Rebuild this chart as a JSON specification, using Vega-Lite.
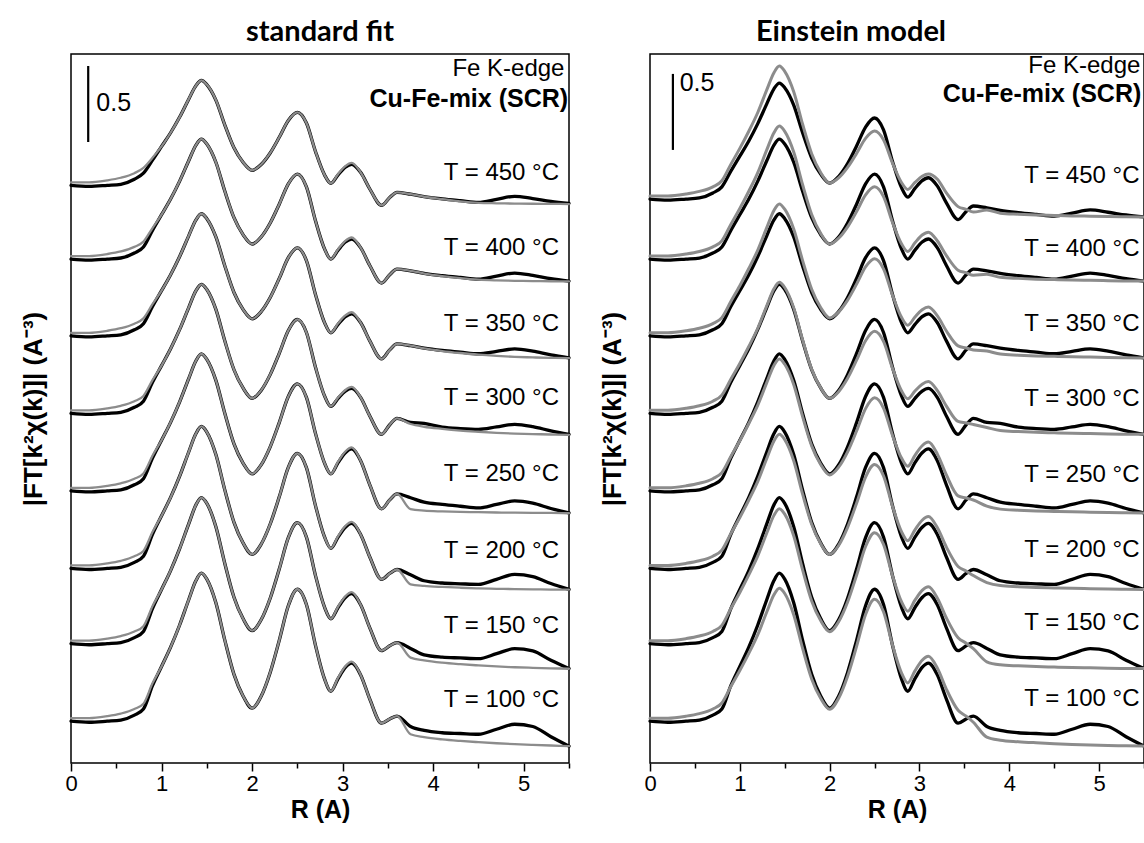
{
"$schema":"https://vega.github.io/schema/vega-lite/v6.json",
"background":"white",
"padding":{"left":19,"top":17,"right":0,"bottom":0},
"spacing":26,
"datasets":{
"curves":[
{"panel":"std","T":450,"R":0,"obs":3.8,"fit":3.82},{"panel":"std","T":450,"R":0.2,"obs":3.793,"fit":3.82},{"panel":"std","T":450,"R":0.4,"obs":3.8,"fit":3.833},{"panel":"std","T":450,"R":0.55,"obs":3.807,"fit":3.85},{"panel":"std","T":450,"R":0.7,"obs":3.84,"fit":3.88},{"panel":"std","T":450,"R":0.8,"obs":3.88,"fit":3.915},{"panel":"std","T":450,"R":0.9,"obs":3.966,"fit":3.981},{"panel":"std","T":450,"R":1,"obs":4.056,"fit":4.056},{"panel":"std","T":450,"R":1.1,"obs":4.146,"fit":4.146},{"panel":"std","T":450,"R":1.2,"obs":4.249,"fit":4.249},{"panel":"std","T":450,"R":1.3,"obs":4.367,"fit":4.367},{"panel":"std","T":450,"R":1.38,"obs":4.456,"fit":4.456},{"panel":"std","T":450,"R":1.44,"obs":4.491,"fit":4.491},{"panel":"std","T":450,"R":1.5,"obs":4.463,"fit":4.463},{"panel":"std","T":450,"R":1.6,"obs":4.361,"fit":4.361},{"panel":"std","T":450,"R":1.7,"obs":4.195,"fit":4.195},{"panel":"std","T":450,"R":1.8,"obs":4.047,"fit":4.047},{"panel":"std","T":450,"R":1.9,"obs":3.952,"fit":3.952},{"panel":"std","T":450,"R":2,"obs":3.899,"fit":3.899},{"panel":"std","T":450,"R":2.1,"obs":3.937,"fit":3.937},{"panel":"std","T":450,"R":2.2,"obs":4.013,"fit":4.013},{"panel":"std","T":450,"R":2.3,"obs":4.116,"fit":4.116},{"panel":"std","T":450,"R":2.4,"obs":4.227,"fit":4.227},{"panel":"std","T":450,"R":2.5,"obs":4.28,"fit":4.28},{"panel":"std","T":450,"R":2.6,"obs":4.21,"fit":4.21},{"panel":"std","T":450,"R":2.7,"obs":4.023,"fit":4.023},{"panel":"std","T":450,"R":2.8,"obs":3.869,"fit":3.869},{"panel":"std","T":450,"R":2.87,"obs":3.813,"fit":3.813},{"panel":"std","T":450,"R":2.95,"obs":3.869,"fit":3.875},{"panel":"std","T":450,"R":3.03,"obs":3.919,"fit":3.927},{"panel":"std","T":450,"R":3.1,"obs":3.938,"fit":3.948},{"panel":"std","T":450,"R":3.2,"obs":3.884,"fit":3.884},{"panel":"std","T":450,"R":3.3,"obs":3.776,"fit":3.776},{"panel":"std","T":450,"R":3.43,"obs":3.668,"fit":3.668},{"panel":"std","T":450,"R":3.52,"obs":3.72,"fit":3.72},{"panel":"std","T":450,"R":3.6,"obs":3.754,"fit":3.754},{"panel":"std","T":450,"R":3.75,"obs":3.742,"fit":3.742},{"panel":"std","T":450,"R":3.9,"obs":3.726,"fit":3.725},{"panel":"std","T":450,"R":4.1,"obs":3.711,"fit":3.71},{"panel":"std","T":450,"R":4.3,"obs":3.699,"fit":3.695},{"panel":"std","T":450,"R":4.5,"obs":3.688,"fit":3.685},{"panel":"std","T":450,"R":4.7,"obs":3.708,"fit":3.682},{"panel":"std","T":450,"R":4.9,"obs":3.728,"fit":3.68},{"panel":"std","T":450,"R":5.1,"obs":3.713,"fit":3.679},{"panel":"std","T":450,"R":5.3,"obs":3.695,"fit":3.678},{"panel":"std","T":450,"R":5.5,"obs":3.682,"fit":3.677},
{"panel":"std","T":400,"R":0,"obs":3.315,"fit":3.335},{"panel":"std","T":400,"R":0.2,"obs":3.308,"fit":3.335},{"panel":"std","T":400,"R":0.4,"obs":3.315,"fit":3.348},{"panel":"std","T":400,"R":0.55,"obs":3.322,"fit":3.365},{"panel":"std","T":400,"R":0.7,"obs":3.355,"fit":3.395},{"panel":"std","T":400,"R":0.8,"obs":3.395,"fit":3.43},{"panel":"std","T":400,"R":0.9,"obs":3.504,"fit":3.519},{"panel":"std","T":400,"R":1,"obs":3.607,"fit":3.607},{"panel":"std","T":400,"R":1.1,"obs":3.71,"fit":3.71},{"panel":"std","T":400,"R":1.2,"obs":3.828,"fit":3.828},{"panel":"std","T":400,"R":1.3,"obs":3.962,"fit":3.962},{"panel":"std","T":400,"R":1.38,"obs":4.065,"fit":4.065},{"panel":"std","T":400,"R":1.44,"obs":4.104,"fit":4.104},{"panel":"std","T":400,"R":1.5,"obs":4.072,"fit":4.072},{"panel":"std","T":400,"R":1.6,"obs":3.952,"fit":3.952},{"panel":"std","T":400,"R":1.7,"obs":3.759,"fit":3.759},{"panel":"std","T":400,"R":1.8,"obs":3.587,"fit":3.587},{"panel":"std","T":400,"R":1.9,"obs":3.476,"fit":3.476},{"panel":"std","T":400,"R":2,"obs":3.414,"fit":3.414},{"panel":"std","T":400,"R":2.1,"obs":3.46,"fit":3.46},{"panel":"std","T":400,"R":2.2,"obs":3.552,"fit":3.552},{"panel":"std","T":400,"R":2.3,"obs":3.676,"fit":3.676},{"panel":"std","T":400,"R":2.4,"obs":3.81,"fit":3.81},{"panel":"std","T":400,"R":2.5,"obs":3.874,"fit":3.874},{"panel":"std","T":400,"R":2.6,"obs":3.79,"fit":3.79},{"panel":"std","T":400,"R":2.7,"obs":3.567,"fit":3.567},{"panel":"std","T":400,"R":2.8,"obs":3.382,"fit":3.382},{"panel":"std","T":400,"R":2.87,"obs":3.315,"fit":3.315},{"panel":"std","T":400,"R":2.95,"obs":3.374,"fit":3.38},{"panel":"std","T":400,"R":3.03,"obs":3.427,"fit":3.435},{"panel":"std","T":400,"R":3.1,"obs":3.447,"fit":3.457},{"panel":"std","T":400,"R":3.2,"obs":3.389,"fit":3.389},{"panel":"std","T":400,"R":3.3,"obs":3.273,"fit":3.273},{"panel":"std","T":400,"R":3.43,"obs":3.157,"fit":3.157},{"panel":"std","T":400,"R":3.52,"obs":3.212,"fit":3.212},{"panel":"std","T":400,"R":3.6,"obs":3.249,"fit":3.249},{"panel":"std","T":400,"R":3.75,"obs":3.238,"fit":3.238},{"panel":"std","T":400,"R":3.9,"obs":3.221,"fit":3.22},{"panel":"std","T":400,"R":4.1,"obs":3.206,"fit":3.203},{"panel":"std","T":400,"R":4.3,"obs":3.194,"fit":3.19},{"panel":"std","T":400,"R":4.5,"obs":3.183,"fit":3.18},{"panel":"std","T":400,"R":4.7,"obs":3.203,"fit":3.175},{"panel":"std","T":400,"R":4.9,"obs":3.223,"fit":3.172},{"panel":"std","T":400,"R":5.1,"obs":3.208,"fit":3.17},{"panel":"std","T":400,"R":5.3,"obs":3.186,"fit":3.169},{"panel":"std","T":400,"R":5.5,"obs":3.17,"fit":3.168},
{"panel":"std","T":350,"R":0,"obs":2.81,"fit":2.83},{"panel":"std","T":350,"R":0.2,"obs":2.803,"fit":2.83},{"panel":"std","T":350,"R":0.4,"obs":2.81,"fit":2.843},{"panel":"std","T":350,"R":0.55,"obs":2.817,"fit":2.86},{"panel":"std","T":350,"R":0.7,"obs":2.85,"fit":2.89},{"panel":"std","T":350,"R":0.8,"obs":2.89,"fit":2.925},{"panel":"std","T":350,"R":0.9,"obs":3.003,"fit":3.018},{"panel":"std","T":350,"R":1,"obs":3.107,"fit":3.107},{"panel":"std","T":350,"R":1.1,"obs":3.212,"fit":3.212},{"panel":"std","T":350,"R":1.2,"obs":3.332,"fit":3.332},{"panel":"std","T":350,"R":1.3,"obs":3.468,"fit":3.468},{"panel":"std","T":350,"R":1.38,"obs":3.573,"fit":3.573},{"panel":"std","T":350,"R":1.44,"obs":3.613,"fit":3.613},{"panel":"std","T":350,"R":1.5,"obs":3.581,"fit":3.581},{"panel":"std","T":350,"R":1.6,"obs":3.461,"fit":3.461},{"panel":"std","T":350,"R":1.7,"obs":3.268,"fit":3.268},{"panel":"std","T":350,"R":1.8,"obs":3.095,"fit":3.095},{"panel":"std","T":350,"R":1.9,"obs":2.984,"fit":2.984},{"panel":"std","T":350,"R":2,"obs":2.922,"fit":2.922},{"panel":"std","T":350,"R":2.1,"obs":2.969,"fit":2.969},{"panel":"std","T":350,"R":2.2,"obs":3.062,"fit":3.062},{"panel":"std","T":350,"R":2.3,"obs":3.188,"fit":3.188},{"panel":"std","T":350,"R":2.4,"obs":3.324,"fit":3.324},{"panel":"std","T":350,"R":2.5,"obs":3.389,"fit":3.389},{"panel":"std","T":350,"R":2.6,"obs":3.305,"fit":3.305},{"panel":"std","T":350,"R":2.7,"obs":3.082,"fit":3.082},{"panel":"std","T":350,"R":2.8,"obs":2.897,"fit":2.897},{"panel":"std","T":350,"R":2.87,"obs":2.83,"fit":2.83},{"panel":"std","T":350,"R":2.95,"obs":2.886,"fit":2.892},{"panel":"std","T":350,"R":3.03,"obs":2.936,"fit":2.944},{"panel":"std","T":350,"R":3.1,"obs":2.955,"fit":2.965},{"panel":"std","T":350,"R":3.2,"obs":2.896,"fit":2.896},{"panel":"std","T":350,"R":3.3,"obs":2.777,"fit":2.777},{"panel":"std","T":350,"R":3.43,"obs":2.659,"fit":2.659},{"panel":"std","T":350,"R":3.52,"obs":2.718,"fit":2.718},{"panel":"std","T":350,"R":3.6,"obs":2.757,"fit":2.757},{"panel":"std","T":350,"R":3.75,"obs":2.745,"fit":2.745},{"panel":"std","T":350,"R":3.9,"obs":2.729,"fit":2.727},{"panel":"std","T":350,"R":4.1,"obs":2.714,"fit":2.71},{"panel":"std","T":350,"R":4.3,"obs":2.703,"fit":2.697},{"panel":"std","T":350,"R":4.5,"obs":2.692,"fit":2.686},{"panel":"std","T":350,"R":4.7,"obs":2.708,"fit":2.678},{"panel":"std","T":350,"R":4.9,"obs":2.724,"fit":2.672},{"panel":"std","T":350,"R":5.1,"obs":2.709,"fit":2.668},{"panel":"std","T":350,"R":5.3,"obs":2.684,"fit":2.665},{"panel":"std","T":350,"R":5.5,"obs":2.665,"fit":2.663},
{"panel":"std","T":300,"R":0,"obs":2.3,"fit":2.32},{"panel":"std","T":300,"R":0.2,"obs":2.293,"fit":2.32},{"panel":"std","T":300,"R":0.4,"obs":2.3,"fit":2.333},{"panel":"std","T":300,"R":0.55,"obs":2.307,"fit":2.35},{"panel":"std","T":300,"R":0.7,"obs":2.34,"fit":2.38},{"panel":"std","T":300,"R":0.8,"obs":2.38,"fit":2.415},{"panel":"std","T":300,"R":0.9,"obs":2.504,"fit":2.519},{"panel":"std","T":300,"R":1,"obs":2.614,"fit":2.614},{"panel":"std","T":300,"R":1.1,"obs":2.725,"fit":2.725},{"panel":"std","T":300,"R":1.2,"obs":2.852,"fit":2.852},{"panel":"std","T":300,"R":1.3,"obs":2.996,"fit":2.996},{"panel":"std","T":300,"R":1.38,"obs":3.107,"fit":3.107},{"panel":"std","T":300,"R":1.44,"obs":3.149,"fit":3.149},{"panel":"std","T":300,"R":1.5,"obs":3.115,"fit":3.115},{"panel":"std","T":300,"R":1.6,"obs":2.984,"fit":2.984},{"panel":"std","T":300,"R":1.7,"obs":2.774,"fit":2.774},{"panel":"std","T":300,"R":1.8,"obs":2.587,"fit":2.587},{"panel":"std","T":300,"R":1.9,"obs":2.467,"fit":2.467},{"panel":"std","T":300,"R":2,"obs":2.399,"fit":2.399},{"panel":"std","T":300,"R":2.1,"obs":2.451,"fit":2.451},{"panel":"std","T":300,"R":2.2,"obs":2.555,"fit":2.555},{"panel":"std","T":300,"R":2.3,"obs":2.695,"fit":2.695},{"panel":"std","T":300,"R":2.4,"obs":2.845,"fit":2.845},{"panel":"std","T":300,"R":2.5,"obs":2.918,"fit":2.918},{"panel":"std","T":300,"R":2.6,"obs":2.832,"fit":2.832},{"panel":"std","T":300,"R":2.7,"obs":2.603,"fit":2.603},{"panel":"std","T":300,"R":2.8,"obs":2.415,"fit":2.415},{"panel":"std","T":300,"R":2.87,"obs":2.346,"fit":2.346},{"panel":"std","T":300,"R":2.95,"obs":2.399,"fit":2.405},{"panel":"std","T":300,"R":3.03,"obs":2.446,"fit":2.454},{"panel":"std","T":300,"R":3.1,"obs":2.464,"fit":2.474},{"panel":"std","T":300,"R":3.2,"obs":2.404,"fit":2.404},{"panel":"std","T":300,"R":3.3,"obs":2.283,"fit":2.283},{"panel":"std","T":300,"R":3.43,"obs":2.162,"fit":2.162},{"panel":"std","T":300,"R":3.52,"obs":2.225,"fit":2.225},{"panel":"std","T":300,"R":3.6,"obs":2.267,"fit":2.267},{"panel":"std","T":300,"R":3.75,"obs":2.24,"fit":2.23},{"panel":"std","T":300,"R":3.9,"obs":2.234,"fit":2.212},{"panel":"std","T":300,"R":4.1,"obs":2.21,"fit":2.198},{"panel":"std","T":300,"R":4.3,"obs":2.2,"fit":2.187},{"panel":"std","T":300,"R":4.5,"obs":2.195,"fit":2.179},{"panel":"std","T":300,"R":4.7,"obs":2.211,"fit":2.172},{"panel":"std","T":300,"R":4.9,"obs":2.228,"fit":2.167},{"panel":"std","T":300,"R":5.1,"obs":2.213,"fit":2.164},{"panel":"std","T":300,"R":5.3,"obs":2.185,"fit":2.161},{"panel":"std","T":300,"R":5.5,"obs":2.162,"fit":2.159},
{"panel":"std","T":250,"R":0,"obs":1.79,"fit":1.81},{"panel":"std","T":250,"R":0.2,"obs":1.783,"fit":1.81},{"panel":"std","T":250,"R":0.4,"obs":1.79,"fit":1.823},{"panel":"std","T":250,"R":0.55,"obs":1.797,"fit":1.84},{"panel":"std","T":250,"R":0.7,"obs":1.83,"fit":1.87},{"panel":"std","T":250,"R":0.8,"obs":1.87,"fit":1.905},{"panel":"std","T":250,"R":0.9,"obs":2.006,"fit":2.021},{"panel":"std","T":250,"R":1,"obs":2.123,"fit":2.123},{"panel":"std","T":250,"R":1.1,"obs":2.241,"fit":2.241},{"panel":"std","T":250,"R":1.2,"obs":2.376,"fit":2.376},{"panel":"std","T":250,"R":1.3,"obs":2.529,"fit":2.529},{"panel":"std","T":250,"R":1.38,"obs":2.646,"fit":2.646},{"panel":"std","T":250,"R":1.44,"obs":2.691,"fit":2.691},{"panel":"std","T":250,"R":1.5,"obs":2.655,"fit":2.655},{"panel":"std","T":250,"R":1.6,"obs":2.517,"fit":2.517},{"panel":"std","T":250,"R":1.7,"obs":2.297,"fit":2.297},{"panel":"std","T":250,"R":1.8,"obs":2.099,"fit":2.099},{"panel":"std","T":250,"R":1.9,"obs":1.973,"fit":1.973},{"panel":"std","T":250,"R":2,"obs":1.902,"fit":1.902},{"panel":"std","T":250,"R":2.1,"obs":1.961,"fit":1.961},{"panel":"std","T":250,"R":2.2,"obs":2.08,"fit":2.08},{"panel":"std","T":250,"R":2.3,"obs":2.239,"fit":2.239},{"panel":"std","T":250,"R":2.4,"obs":2.411,"fit":2.411},{"panel":"std","T":250,"R":2.5,"obs":2.494,"fit":2.494},{"panel":"std","T":250,"R":2.6,"obs":2.405,"fit":2.405},{"panel":"std","T":250,"R":2.7,"obs":2.168,"fit":2.168},{"panel":"std","T":250,"R":2.8,"obs":1.973,"fit":1.973},{"panel":"std","T":250,"R":2.87,"obs":1.902,"fit":1.902},{"panel":"std","T":250,"R":2.95,"obs":1.976,"fit":1.982},{"panel":"std","T":250,"R":3.03,"obs":2.041,"fit":2.049},{"panel":"std","T":250,"R":3.1,"obs":2.066,"fit":2.076},{"panel":"std","T":250,"R":3.2,"obs":1.987,"fit":1.987},{"panel":"std","T":250,"R":3.3,"obs":1.83,"fit":1.83},{"panel":"std","T":250,"R":3.43,"obs":1.672,"fit":1.672},{"panel":"std","T":250,"R":3.52,"obs":1.731,"fit":1.731},{"panel":"std","T":250,"R":3.6,"obs":1.77,"fit":1.77},{"panel":"std","T":250,"R":3.75,"obs":1.745,"fit":1.67},{"panel":"std","T":250,"R":3.9,"obs":1.716,"fit":1.66},{"panel":"std","T":250,"R":4.1,"obs":1.701,"fit":1.655},{"panel":"std","T":250,"R":4.3,"obs":1.689,"fit":1.652},{"panel":"std","T":250,"R":4.5,"obs":1.678,"fit":1.65},{"panel":"std","T":250,"R":4.7,"obs":1.701,"fit":1.648},{"panel":"std","T":250,"R":4.9,"obs":1.724,"fit":1.647},{"panel":"std","T":250,"R":5.1,"obs":1.709,"fit":1.646},{"panel":"std","T":250,"R":5.3,"obs":1.674,"fit":1.645},{"panel":"std","T":250,"R":5.5,"obs":1.645,"fit":1.643},
{"panel":"std","T":200,"R":0,"obs":1.28,"fit":1.3},{"panel":"std","T":200,"R":0.2,"obs":1.273,"fit":1.3},{"panel":"std","T":200,"R":0.4,"obs":1.28,"fit":1.313},{"panel":"std","T":200,"R":0.55,"obs":1.287,"fit":1.33},{"panel":"std","T":200,"R":0.7,"obs":1.32,"fit":1.36},{"panel":"std","T":200,"R":0.8,"obs":1.36,"fit":1.395},{"panel":"std","T":200,"R":0.9,"obs":1.504,"fit":1.519},{"panel":"std","T":200,"R":1,"obs":1.626,"fit":1.626},{"panel":"std","T":200,"R":1.1,"obs":1.747,"fit":1.747},{"panel":"std","T":200,"R":1.2,"obs":1.887,"fit":1.887},{"panel":"std","T":200,"R":1.3,"obs":2.046,"fit":2.046},{"panel":"std","T":200,"R":1.38,"obs":2.167,"fit":2.167},{"panel":"std","T":200,"R":1.44,"obs":2.214,"fit":2.214},{"panel":"std","T":200,"R":1.5,"obs":2.177,"fit":2.177},{"panel":"std","T":200,"R":1.6,"obs":2.029,"fit":2.029},{"panel":"std","T":200,"R":1.7,"obs":1.793,"fit":1.793},{"panel":"std","T":200,"R":1.8,"obs":1.583,"fit":1.583},{"panel":"std","T":200,"R":1.9,"obs":1.448,"fit":1.448},{"panel":"std","T":200,"R":2,"obs":1.372,"fit":1.372},{"panel":"std","T":200,"R":2.1,"obs":1.439,"fit":1.439},{"panel":"std","T":200,"R":2.2,"obs":1.572,"fit":1.572},{"panel":"std","T":200,"R":2.3,"obs":1.751,"fit":1.751},{"panel":"std","T":200,"R":2.4,"obs":1.944,"fit":1.944},{"panel":"std","T":200,"R":2.5,"obs":2.037,"fit":2.037},{"panel":"std","T":200,"R":2.6,"obs":1.943,"fit":1.943},{"panel":"std","T":200,"R":2.7,"obs":1.693,"fit":1.693},{"panel":"std","T":200,"R":2.8,"obs":1.487,"fit":1.487},{"panel":"std","T":200,"R":2.87,"obs":1.412,"fit":1.412},{"panel":"std","T":200,"R":2.95,"obs":1.486,"fit":1.492},{"panel":"std","T":200,"R":3.03,"obs":1.551,"fit":1.559},{"panel":"std","T":200,"R":3.1,"obs":1.576,"fit":1.586},{"panel":"std","T":200,"R":3.2,"obs":1.502,"fit":1.502},{"panel":"std","T":200,"R":3.3,"obs":1.355,"fit":1.355},{"panel":"std","T":200,"R":3.43,"obs":1.208,"fit":1.208},{"panel":"std","T":200,"R":3.52,"obs":1.247,"fit":1.247},{"panel":"std","T":200,"R":3.6,"obs":1.273,"fit":1.273},{"panel":"std","T":200,"R":3.75,"obs":1.238,"fit":1.175},{"panel":"std","T":200,"R":3.9,"obs":1.199,"fit":1.165},{"panel":"std","T":200,"R":4.1,"obs":1.184,"fit":1.158},{"panel":"std","T":200,"R":4.3,"obs":1.179,"fit":1.153},{"panel":"std","T":200,"R":4.5,"obs":1.175,"fit":1.149},{"panel":"std","T":200,"R":4.7,"obs":1.208,"fit":1.146},{"panel":"std","T":200,"R":4.9,"obs":1.241,"fit":1.144},{"panel":"std","T":200,"R":5.1,"obs":1.226,"fit":1.142},{"panel":"std","T":200,"R":5.3,"obs":1.181,"fit":1.141},{"panel":"std","T":200,"R":5.5,"obs":1.142,"fit":1.14},
{"panel":"std","T":150,"R":0,"obs":0.785,"fit":0.805},{"panel":"std","T":150,"R":0.2,"obs":0.778,"fit":0.805},{"panel":"std","T":150,"R":0.4,"obs":0.785,"fit":0.818},{"panel":"std","T":150,"R":0.55,"obs":0.792,"fit":0.835},{"panel":"std","T":150,"R":0.7,"obs":0.825,"fit":0.865},{"panel":"std","T":150,"R":0.8,"obs":0.865,"fit":0.9},{"panel":"std","T":150,"R":0.9,"obs":1.016,"fit":1.031},{"panel":"std","T":150,"R":1,"obs":1.141,"fit":1.141},{"panel":"std","T":150,"R":1.1,"obs":1.266,"fit":1.266},{"panel":"std","T":150,"R":1.2,"obs":1.41,"fit":1.41},{"panel":"std","T":150,"R":1.3,"obs":1.573,"fit":1.573},{"panel":"std","T":150,"R":1.38,"obs":1.698,"fit":1.698},{"panel":"std","T":150,"R":1.44,"obs":1.746,"fit":1.746},{"panel":"std","T":150,"R":1.5,"obs":1.708,"fit":1.708},{"panel":"std","T":150,"R":1.6,"obs":1.554,"fit":1.554},{"panel":"std","T":150,"R":1.7,"obs":1.309,"fit":1.309},{"panel":"std","T":150,"R":1.8,"obs":1.09,"fit":1.09},{"panel":"std","T":150,"R":1.9,"obs":0.95,"fit":0.95},{"panel":"std","T":150,"R":2,"obs":0.871,"fit":0.871},{"panel":"std","T":150,"R":2.1,"obs":0.942,"fit":0.942},{"panel":"std","T":150,"R":2.2,"obs":1.084,"fit":1.084},{"panel":"std","T":150,"R":2.3,"obs":1.276,"fit":1.276},{"panel":"std","T":150,"R":2.4,"obs":1.482,"fit":1.482},{"panel":"std","T":150,"R":2.5,"obs":1.581,"fit":1.581},{"panel":"std","T":150,"R":2.6,"obs":1.486,"fit":1.486},{"panel":"std","T":150,"R":2.7,"obs":1.233,"fit":1.233},{"panel":"std","T":150,"R":2.8,"obs":1.025,"fit":1.025},{"panel":"std","T":150,"R":2.87,"obs":0.949,"fit":0.949},{"panel":"std","T":150,"R":2.95,"obs":1.023,"fit":1.029},{"panel":"std","T":150,"R":3.03,"obs":1.089,"fit":1.097},{"panel":"std","T":150,"R":3.1,"obs":1.114,"fit":1.124},{"panel":"std","T":150,"R":3.2,"obs":1.039,"fit":1.039},{"panel":"std","T":150,"R":3.3,"obs":0.889,"fit":0.889},{"panel":"std","T":150,"R":3.43,"obs":0.739,"fit":0.739},{"panel":"std","T":150,"R":3.52,"obs":0.771,"fit":0.771},{"panel":"std","T":150,"R":3.6,"obs":0.792,"fit":0.792},{"panel":"std","T":150,"R":3.75,"obs":0.754,"fit":0.693},{"panel":"std","T":150,"R":3.9,"obs":0.711,"fit":0.675},{"panel":"std","T":150,"R":4.1,"obs":0.696,"fit":0.66},{"panel":"std","T":150,"R":4.3,"obs":0.691,"fit":0.65},{"panel":"std","T":150,"R":4.5,"obs":0.686,"fit":0.642},{"panel":"std","T":150,"R":4.7,"obs":0.719,"fit":0.635},{"panel":"std","T":150,"R":4.9,"obs":0.752,"fit":0.63},{"panel":"std","T":150,"R":5.1,"obs":0.737,"fit":0.626},{"panel":"std","T":150,"R":5.3,"obs":0.676,"fit":0.623},{"panel":"std","T":150,"R":5.5,"obs":0.621,"fit":0.62},
{"panel":"std","T":100,"R":0,"obs":0.275,"fit":0.295},{"panel":"std","T":100,"R":0.2,"obs":0.268,"fit":0.295},{"panel":"std","T":100,"R":0.4,"obs":0.275,"fit":0.308},{"panel":"std","T":100,"R":0.55,"obs":0.282,"fit":0.325},{"panel":"std","T":100,"R":0.7,"obs":0.315,"fit":0.355},{"panel":"std","T":100,"R":0.8,"obs":0.355,"fit":0.39},{"panel":"std","T":100,"R":0.9,"obs":0.509,"fit":0.524},{"panel":"std","T":100,"R":1,"obs":0.635,"fit":0.635},{"panel":"std","T":100,"R":1.1,"obs":0.762,"fit":0.762},{"panel":"std","T":100,"R":1.2,"obs":0.908,"fit":0.908},{"panel":"std","T":100,"R":1.3,"obs":1.074,"fit":1.074},{"panel":"std","T":100,"R":1.38,"obs":1.2,"fit":1.2},{"panel":"std","T":100,"R":1.44,"obs":1.249,"fit":1.249},{"panel":"std","T":100,"R":1.5,"obs":1.21,"fit":1.21},{"panel":"std","T":100,"R":1.6,"obs":1.054,"fit":1.054},{"panel":"std","T":100,"R":1.7,"obs":0.805,"fit":0.805},{"panel":"std","T":100,"R":1.8,"obs":0.583,"fit":0.583},{"panel":"std","T":100,"R":1.9,"obs":0.441,"fit":0.441},{"panel":"std","T":100,"R":2,"obs":0.361,"fit":0.361},{"panel":"std","T":100,"R":2.1,"obs":0.439,"fit":0.439},{"panel":"std","T":100,"R":2.2,"obs":0.596,"fit":0.596},{"panel":"std","T":100,"R":2.3,"obs":0.807,"fit":0.807},{"panel":"std","T":100,"R":2.4,"obs":1.034,"fit":1.034},{"panel":"std","T":100,"R":2.5,"obs":1.143,"fit":1.143},{"panel":"std","T":100,"R":2.6,"obs":1.042,"fit":1.042},{"panel":"std","T":100,"R":2.7,"obs":0.774,"fit":0.774},{"panel":"std","T":100,"R":2.8,"obs":0.553,"fit":0.553},{"panel":"std","T":100,"R":2.87,"obs":0.472,"fit":0.472},{"panel":"std","T":100,"R":2.95,"obs":0.555,"fit":0.561},{"panel":"std","T":100,"R":3.03,"obs":0.629,"fit":0.637},{"panel":"std","T":100,"R":3.1,"obs":0.657,"fit":0.667},{"panel":"std","T":100,"R":3.2,"obs":0.578,"fit":0.578},{"panel":"std","T":100,"R":3.3,"obs":0.42,"fit":0.42},{"panel":"std","T":100,"R":3.43,"obs":0.262,"fit":0.262},{"panel":"std","T":100,"R":3.52,"obs":0.29,"fit":0.29},{"panel":"std","T":100,"R":3.6,"obs":0.308,"fit":0.308},{"panel":"std","T":100,"R":3.75,"obs":0.24,"fit":0.189},{"panel":"std","T":100,"R":3.9,"obs":0.214,"fit":0.17},{"panel":"std","T":100,"R":4.1,"obs":0.199,"fit":0.155},{"panel":"std","T":100,"R":4.3,"obs":0.194,"fit":0.145},{"panel":"std","T":100,"R":4.5,"obs":0.189,"fit":0.137},{"panel":"std","T":100,"R":4.7,"obs":0.222,"fit":0.13},{"panel":"std","T":100,"R":4.9,"obs":0.255,"fit":0.124},{"panel":"std","T":100,"R":5.1,"obs":0.24,"fit":0.119},{"panel":"std","T":100,"R":5.3,"obs":0.173,"fit":0.115},{"panel":"std","T":100,"R":5.5,"obs":0.111,"fit":0.111},
{"panel":"ein","T":450,"R":0,"obs":3.71,"fit":3.73},{"panel":"ein","T":450,"R":0.2,"obs":3.703,"fit":3.73},{"panel":"ein","T":450,"R":0.4,"obs":3.71,"fit":3.743},{"panel":"ein","T":450,"R":0.55,"obs":3.717,"fit":3.76},{"panel":"ein","T":450,"R":0.7,"obs":3.75,"fit":3.79},{"panel":"ein","T":450,"R":0.8,"obs":3.79,"fit":3.83},{"panel":"ein","T":450,"R":0.9,"obs":3.893,"fit":3.938},{"panel":"ein","T":450,"R":1,"obs":3.992,"fit":4.043},{"panel":"ein","T":450,"R":1.1,"obs":4.092,"fit":4.156},{"panel":"ein","T":450,"R":1.2,"obs":4.206,"fit":4.279},{"panel":"ein","T":450,"R":1.3,"obs":4.336,"fit":4.428},{"panel":"ein","T":450,"R":1.38,"obs":4.435,"fit":4.541},{"panel":"ein","T":450,"R":1.44,"obs":4.473,"fit":4.585},{"panel":"ein","T":450,"R":1.5,"obs":4.442,"fit":4.55},{"panel":"ein","T":450,"R":1.6,"obs":4.328,"fit":4.416},{"panel":"ein","T":450,"R":1.7,"obs":4.144,"fit":4.2},{"panel":"ein","T":450,"R":1.8,"obs":3.98,"fit":4.008},{"panel":"ein","T":450,"R":1.9,"obs":3.874,"fit":3.884},{"panel":"ein","T":450,"R":2,"obs":3.815,"fit":3.815},{"panel":"ein","T":450,"R":2.1,"obs":3.858,"fit":3.849},{"panel":"ein","T":450,"R":2.2,"obs":3.943,"fit":3.918},{"panel":"ein","T":450,"R":2.3,"obs":4.059,"fit":4.01},{"panel":"ein","T":450,"R":2.4,"obs":4.183,"fit":4.109},{"panel":"ein","T":450,"R":2.5,"obs":4.243,"fit":4.157},{"panel":"ein","T":450,"R":2.6,"obs":4.165,"fit":4.099},{"panel":"ein","T":450,"R":2.7,"obs":3.957,"fit":3.946},{"panel":"ein","T":450,"R":2.8,"obs":3.785,"fit":3.819},{"panel":"ein","T":450,"R":2.87,"obs":3.723,"fit":3.773},{"panel":"ein","T":450,"R":2.95,"obs":3.78,"fit":3.819},{"panel":"ein","T":450,"R":3.03,"obs":3.831,"fit":3.86},{"panel":"ein","T":450,"R":3.1,"obs":3.85,"fit":3.875},{"panel":"ein","T":450,"R":3.2,"obs":3.795,"fit":3.84},{"panel":"ein","T":450,"R":3.3,"obs":3.685,"fit":3.75},{"panel":"ein","T":450,"R":3.43,"obs":3.575,"fit":3.66},{"panel":"ein","T":450,"R":3.52,"obs":3.628,"fit":3.642},{"panel":"ein","T":450,"R":3.6,"obs":3.664,"fit":3.624},{"panel":"ein","T":450,"R":3.75,"obs":3.652,"fit":3.637},{"panel":"ein","T":450,"R":3.9,"obs":3.636,"fit":3.617},{"panel":"ein","T":450,"R":4.1,"obs":3.621,"fit":3.61},{"panel":"ein","T":450,"R":4.3,"obs":3.609,"fit":3.605},{"panel":"ein","T":450,"R":4.5,"obs":3.598,"fit":3.602},{"panel":"ein","T":450,"R":4.7,"obs":3.618,"fit":3.599},{"panel":"ein","T":450,"R":4.9,"obs":3.638,"fit":3.597},{"panel":"ein","T":450,"R":5.1,"obs":3.623,"fit":3.595},{"panel":"ein","T":450,"R":5.3,"obs":3.605,"fit":3.593},{"panel":"ein","T":450,"R":5.5,"obs":3.592,"fit":3.592},
{"panel":"ein","T":400,"R":0,"obs":3.315,"fit":3.335},{"panel":"ein","T":400,"R":0.2,"obs":3.308,"fit":3.335},{"panel":"ein","T":400,"R":0.4,"obs":3.315,"fit":3.348},{"panel":"ein","T":400,"R":0.55,"obs":3.322,"fit":3.365},{"panel":"ein","T":400,"R":0.7,"obs":3.355,"fit":3.395},{"panel":"ein","T":400,"R":0.8,"obs":3.395,"fit":3.435},{"panel":"ein","T":400,"R":0.9,"obs":3.504,"fit":3.543},{"panel":"ein","T":400,"R":1,"obs":3.607,"fit":3.648},{"panel":"ein","T":400,"R":1.1,"obs":3.71,"fit":3.761},{"panel":"ein","T":400,"R":1.2,"obs":3.828,"fit":3.884},{"panel":"ein","T":400,"R":1.3,"obs":3.962,"fit":4.033},{"panel":"ein","T":400,"R":1.38,"obs":4.065,"fit":4.146},{"panel":"ein","T":400,"R":1.44,"obs":4.104,"fit":4.19},{"panel":"ein","T":400,"R":1.5,"obs":4.072,"fit":4.155},{"panel":"ein","T":400,"R":1.6,"obs":3.952,"fit":4.019},{"panel":"ein","T":400,"R":1.7,"obs":3.759,"fit":3.802},{"panel":"ein","T":400,"R":1.8,"obs":3.587,"fit":3.608},{"panel":"ein","T":400,"R":1.9,"obs":3.476,"fit":3.484},{"panel":"ein","T":400,"R":2,"obs":3.414,"fit":3.414},{"panel":"ein","T":400,"R":2.1,"obs":3.46,"fit":3.452},{"panel":"ein","T":400,"R":2.2,"obs":3.552,"fit":3.527},{"panel":"ein","T":400,"R":2.3,"obs":3.676,"fit":3.628},{"panel":"ein","T":400,"R":2.4,"obs":3.81,"fit":3.737},{"panel":"ein","T":400,"R":2.5,"obs":3.874,"fit":3.79},{"panel":"ein","T":400,"R":2.6,"obs":3.79,"fit":3.726},{"panel":"ein","T":400,"R":2.7,"obs":3.567,"fit":3.556},{"panel":"ein","T":400,"R":2.8,"obs":3.382,"fit":3.416},{"panel":"ein","T":400,"R":2.87,"obs":3.315,"fit":3.365},{"panel":"ein","T":400,"R":2.95,"obs":3.374,"fit":3.422},{"panel":"ein","T":400,"R":3.03,"obs":3.427,"fit":3.473},{"panel":"ein","T":400,"R":3.1,"obs":3.447,"fit":3.492},{"panel":"ein","T":400,"R":3.2,"obs":3.389,"fit":3.434},{"panel":"ein","T":400,"R":3.3,"obs":3.273,"fit":3.338},{"panel":"ein","T":400,"R":3.43,"obs":3.157,"fit":3.242},{"panel":"ein","T":400,"R":3.52,"obs":3.212,"fit":3.225},{"panel":"ein","T":400,"R":3.6,"obs":3.249,"fit":3.209},{"panel":"ein","T":400,"R":3.75,"obs":3.238,"fit":3.215},{"panel":"ein","T":400,"R":3.9,"obs":3.221,"fit":3.195},{"panel":"ein","T":400,"R":4.1,"obs":3.206,"fit":3.188},{"panel":"ein","T":400,"R":4.3,"obs":3.194,"fit":3.183},{"panel":"ein","T":400,"R":4.5,"obs":3.183,"fit":3.18},{"panel":"ein","T":400,"R":4.7,"obs":3.203,"fit":3.177},{"panel":"ein","T":400,"R":4.9,"obs":3.223,"fit":3.175},{"panel":"ein","T":400,"R":5.1,"obs":3.208,"fit":3.173},{"panel":"ein","T":400,"R":5.3,"obs":3.186,"fit":3.171},{"panel":"ein","T":400,"R":5.5,"obs":3.17,"fit":3.17},
{"panel":"ein","T":350,"R":0,"obs":2.81,"fit":2.83},{"panel":"ein","T":350,"R":0.2,"obs":2.803,"fit":2.83},{"panel":"ein","T":350,"R":0.4,"obs":2.81,"fit":2.843},{"panel":"ein","T":350,"R":0.55,"obs":2.817,"fit":2.86},{"panel":"ein","T":350,"R":0.7,"obs":2.85,"fit":2.89},{"panel":"ein","T":350,"R":0.8,"obs":2.89,"fit":2.93},{"panel":"ein","T":350,"R":0.9,"obs":3.003,"fit":3.036},{"panel":"ein","T":350,"R":1,"obs":3.107,"fit":3.14},{"panel":"ein","T":350,"R":1.1,"obs":3.212,"fit":3.253},{"panel":"ein","T":350,"R":1.2,"obs":3.332,"fit":3.374},{"panel":"ein","T":350,"R":1.3,"obs":3.468,"fit":3.522},{"panel":"ein","T":350,"R":1.38,"obs":3.573,"fit":3.635},{"panel":"ein","T":350,"R":1.44,"obs":3.613,"fit":3.678},{"panel":"ein","T":350,"R":1.5,"obs":3.581,"fit":3.643},{"panel":"ein","T":350,"R":1.6,"obs":3.461,"fit":3.513},{"panel":"ein","T":350,"R":1.7,"obs":3.268,"fit":3.303},{"panel":"ein","T":350,"R":1.8,"obs":3.095,"fit":3.116},{"panel":"ein","T":350,"R":1.9,"obs":2.984,"fit":2.996},{"panel":"ein","T":350,"R":2,"obs":2.922,"fit":2.928},{"panel":"ein","T":350,"R":2.1,"obs":2.969,"fit":2.967},{"panel":"ein","T":350,"R":2.2,"obs":3.062,"fit":3.045},{"panel":"ein","T":350,"R":2.3,"obs":3.188,"fit":3.15},{"panel":"ein","T":350,"R":2.4,"obs":3.324,"fit":3.263},{"panel":"ein","T":350,"R":2.5,"obs":3.389,"fit":3.317},{"panel":"ein","T":350,"R":2.6,"obs":3.305,"fit":3.251},{"panel":"ein","T":350,"R":2.7,"obs":3.082,"fit":3.077},{"panel":"ein","T":350,"R":2.8,"obs":2.897,"fit":2.932},{"panel":"ein","T":350,"R":2.87,"obs":2.83,"fit":2.88},{"panel":"ein","T":350,"R":2.95,"obs":2.886,"fit":2.934},{"panel":"ein","T":350,"R":3.03,"obs":2.936,"fit":2.982},{"panel":"ein","T":350,"R":3.1,"obs":2.955,"fit":3.0},{"panel":"ein","T":350,"R":3.2,"obs":2.896,"fit":2.941},{"panel":"ein","T":350,"R":3.3,"obs":2.777,"fit":2.842},{"panel":"ein","T":350,"R":3.43,"obs":2.659,"fit":2.744},{"panel":"ein","T":350,"R":3.52,"obs":2.718,"fit":2.73},{"panel":"ein","T":350,"R":3.6,"obs":2.757,"fit":2.717},{"panel":"ein","T":350,"R":3.75,"obs":2.745,"fit":2.71},{"panel":"ein","T":350,"R":3.9,"obs":2.729,"fit":2.69},{"panel":"ein","T":350,"R":4.1,"obs":2.714,"fit":2.683},{"panel":"ein","T":350,"R":4.3,"obs":2.703,"fit":2.678},{"panel":"ein","T":350,"R":4.5,"obs":2.692,"fit":2.675},{"panel":"ein","T":350,"R":4.7,"obs":2.708,"fit":2.672},{"panel":"ein","T":350,"R":4.9,"obs":2.724,"fit":2.67},{"panel":"ein","T":350,"R":5.1,"obs":2.709,"fit":2.668},{"panel":"ein","T":350,"R":5.3,"obs":2.684,"fit":2.666},{"panel":"ein","T":350,"R":5.5,"obs":2.665,"fit":2.665},
{"panel":"ein","T":300,"R":0,"obs":2.3,"fit":2.32},{"panel":"ein","T":300,"R":0.2,"obs":2.293,"fit":2.32},{"panel":"ein","T":300,"R":0.4,"obs":2.3,"fit":2.333},{"panel":"ein","T":300,"R":0.55,"obs":2.307,"fit":2.35},{"panel":"ein","T":300,"R":0.7,"obs":2.34,"fit":2.38},{"panel":"ein","T":300,"R":0.8,"obs":2.38,"fit":2.42},{"panel":"ein","T":300,"R":0.9,"obs":2.504,"fit":2.524},{"panel":"ein","T":300,"R":1,"obs":2.614,"fit":2.628},{"panel":"ein","T":300,"R":1.1,"obs":2.725,"fit":2.74},{"panel":"ein","T":300,"R":1.2,"obs":2.852,"fit":2.86},{"panel":"ein","T":300,"R":1.3,"obs":2.996,"fit":3.007},{"panel":"ein","T":300,"R":1.38,"obs":3.107,"fit":3.119},{"panel":"ein","T":300,"R":1.44,"obs":3.149,"fit":3.162},{"panel":"ein","T":300,"R":1.5,"obs":3.115,"fit":3.128},{"panel":"ein","T":300,"R":1.6,"obs":2.984,"fit":2.994},{"panel":"ein","T":300,"R":1.7,"obs":2.774,"fit":2.781},{"panel":"ein","T":300,"R":1.8,"obs":2.587,"fit":2.59},{"panel":"ein","T":300,"R":1.9,"obs":2.467,"fit":2.468},{"panel":"ein","T":300,"R":2,"obs":2.399,"fit":2.399},{"panel":"ein","T":300,"R":2.1,"obs":2.451,"fit":2.443},{"panel":"ein","T":300,"R":2.2,"obs":2.555,"fit":2.531},{"panel":"ein","T":300,"R":2.3,"obs":2.695,"fit":2.65},{"panel":"ein","T":300,"R":2.4,"obs":2.845,"fit":2.778},{"panel":"ein","T":300,"R":2.5,"obs":2.918,"fit":2.84},{"panel":"ein","T":300,"R":2.6,"obs":2.832,"fit":2.773},{"panel":"ein","T":300,"R":2.7,"obs":2.603,"fit":2.596},{"panel":"ein","T":300,"R":2.8,"obs":2.415,"fit":2.449},{"panel":"ein","T":300,"R":2.87,"obs":2.346,"fit":2.396},{"panel":"ein","T":300,"R":2.95,"obs":2.399,"fit":2.447},{"panel":"ein","T":300,"R":3.03,"obs":2.446,"fit":2.492},{"panel":"ein","T":300,"R":3.1,"obs":2.464,"fit":2.509},{"panel":"ein","T":300,"R":3.2,"obs":2.404,"fit":2.449},{"panel":"ein","T":300,"R":3.3,"obs":2.283,"fit":2.348},{"panel":"ein","T":300,"R":3.43,"obs":2.162,"fit":2.247},{"panel":"ein","T":300,"R":3.52,"obs":2.225,"fit":2.237},{"panel":"ein","T":300,"R":3.6,"obs":2.267,"fit":2.227},{"panel":"ein","T":300,"R":3.75,"obs":2.24,"fit":2.207},{"panel":"ein","T":300,"R":3.9,"obs":2.234,"fit":2.187},{"panel":"ein","T":300,"R":4.1,"obs":2.21,"fit":2.18},{"panel":"ein","T":300,"R":4.3,"obs":2.2,"fit":2.175},{"panel":"ein","T":300,"R":4.5,"obs":2.195,"fit":2.172},{"panel":"ein","T":300,"R":4.7,"obs":2.211,"fit":2.169},{"panel":"ein","T":300,"R":4.9,"obs":2.228,"fit":2.167},{"panel":"ein","T":300,"R":5.1,"obs":2.213,"fit":2.165},{"panel":"ein","T":300,"R":5.3,"obs":2.185,"fit":2.163},{"panel":"ein","T":300,"R":5.5,"obs":2.162,"fit":2.162},
{"panel":"ein","T":250,"R":0,"obs":1.79,"fit":1.81},{"panel":"ein","T":250,"R":0.2,"obs":1.783,"fit":1.81},{"panel":"ein","T":250,"R":0.4,"obs":1.79,"fit":1.823},{"panel":"ein","T":250,"R":0.55,"obs":1.797,"fit":1.84},{"panel":"ein","T":250,"R":0.7,"obs":1.83,"fit":1.87},{"panel":"ein","T":250,"R":0.8,"obs":1.87,"fit":1.91},{"panel":"ein","T":250,"R":0.9,"obs":2.006,"fit":2.016},{"panel":"ein","T":250,"R":1,"obs":2.123,"fit":2.12},{"panel":"ein","T":250,"R":1.1,"obs":2.241,"fit":2.233},{"panel":"ein","T":250,"R":1.2,"obs":2.376,"fit":2.354},{"panel":"ein","T":250,"R":1.3,"obs":2.529,"fit":2.502},{"panel":"ein","T":250,"R":1.38,"obs":2.646,"fit":2.615},{"panel":"ein","T":250,"R":1.44,"obs":2.691,"fit":2.658},{"panel":"ein","T":250,"R":1.5,"obs":2.655,"fit":2.623},{"panel":"ein","T":250,"R":1.6,"obs":2.517,"fit":2.49},{"panel":"ein","T":250,"R":1.7,"obs":2.297,"fit":2.277},{"panel":"ein","T":250,"R":1.8,"obs":2.099,"fit":2.086},{"panel":"ein","T":250,"R":1.9,"obs":1.973,"fit":1.964},{"panel":"ein","T":250,"R":2,"obs":1.902,"fit":1.895},{"panel":"ein","T":250,"R":2.1,"obs":1.961,"fit":1.946},{"panel":"ein","T":250,"R":2.2,"obs":2.08,"fit":2.047},{"panel":"ein","T":250,"R":2.3,"obs":2.239,"fit":2.184},{"panel":"ein","T":250,"R":2.4,"obs":2.411,"fit":2.331},{"panel":"ein","T":250,"R":2.5,"obs":2.494,"fit":2.402},{"panel":"ein","T":250,"R":2.6,"obs":2.405,"fit":2.335},{"panel":"ein","T":250,"R":2.7,"obs":2.168,"fit":2.155},{"panel":"ein","T":250,"R":2.8,"obs":1.973,"fit":2.006},{"panel":"ein","T":250,"R":2.87,"obs":1.902,"fit":1.952},{"panel":"ein","T":250,"R":2.95,"obs":1.976,"fit":2.024},{"panel":"ein","T":250,"R":3.03,"obs":2.041,"fit":2.087},{"panel":"ein","T":250,"R":3.1,"obs":2.066,"fit":2.111},{"panel":"ein","T":250,"R":3.2,"obs":1.987,"fit":2.032},{"panel":"ein","T":250,"R":3.3,"obs":1.83,"fit":1.895},{"panel":"ein","T":250,"R":3.43,"obs":1.672,"fit":1.757},{"panel":"ein","T":250,"R":3.52,"obs":1.731,"fit":1.743},{"panel":"ein","T":250,"R":3.6,"obs":1.77,"fit":1.73},{"panel":"ein","T":250,"R":3.75,"obs":1.745,"fit":1.69},{"panel":"ein","T":250,"R":3.9,"obs":1.716,"fit":1.67},{"panel":"ein","T":250,"R":4.1,"obs":1.701,"fit":1.663},{"panel":"ein","T":250,"R":4.3,"obs":1.689,"fit":1.658},{"panel":"ein","T":250,"R":4.5,"obs":1.678,"fit":1.655},{"panel":"ein","T":250,"R":4.7,"obs":1.701,"fit":1.652},{"panel":"ein","T":250,"R":4.9,"obs":1.724,"fit":1.65},{"panel":"ein","T":250,"R":5.1,"obs":1.709,"fit":1.648},{"panel":"ein","T":250,"R":5.3,"obs":1.674,"fit":1.646},{"panel":"ein","T":250,"R":5.5,"obs":1.645,"fit":1.645},
{"panel":"ein","T":200,"R":0,"obs":1.28,"fit":1.3},{"panel":"ein","T":200,"R":0.2,"obs":1.273,"fit":1.3},{"panel":"ein","T":200,"R":0.4,"obs":1.28,"fit":1.313},{"panel":"ein","T":200,"R":0.55,"obs":1.287,"fit":1.33},{"panel":"ein","T":200,"R":0.7,"obs":1.32,"fit":1.36},{"panel":"ein","T":200,"R":0.8,"obs":1.36,"fit":1.4},{"panel":"ein","T":200,"R":0.9,"obs":1.504,"fit":1.509},{"panel":"ein","T":200,"R":1,"obs":1.626,"fit":1.615},{"panel":"ein","T":200,"R":1.1,"obs":1.747,"fit":1.73},{"panel":"ein","T":200,"R":1.2,"obs":1.887,"fit":1.853},{"panel":"ein","T":200,"R":1.3,"obs":2.046,"fit":2.003},{"panel":"ein","T":200,"R":1.38,"obs":2.167,"fit":2.118},{"panel":"ein","T":200,"R":1.44,"obs":2.214,"fit":2.162},{"panel":"ein","T":200,"R":1.5,"obs":2.177,"fit":2.127},{"panel":"ein","T":200,"R":1.6,"obs":2.029,"fit":1.988},{"panel":"ein","T":200,"R":1.7,"obs":1.793,"fit":1.767},{"panel":"ein","T":200,"R":1.8,"obs":1.583,"fit":1.57},{"panel":"ein","T":200,"R":1.9,"obs":1.448,"fit":1.443},{"panel":"ein","T":200,"R":2,"obs":1.372,"fit":1.372},{"panel":"ein","T":200,"R":2.1,"obs":1.439,"fit":1.431},{"panel":"ein","T":200,"R":2.2,"obs":1.572,"fit":1.55},{"panel":"ein","T":200,"R":2.3,"obs":1.751,"fit":1.709},{"panel":"ein","T":200,"R":2.4,"obs":1.944,"fit":1.881},{"panel":"ein","T":200,"R":2.5,"obs":2.037,"fit":1.964},{"panel":"ein","T":200,"R":2.6,"obs":1.943,"fit":1.889},{"panel":"ein","T":200,"R":2.7,"obs":1.693,"fit":1.688},{"panel":"ein","T":200,"R":2.8,"obs":1.487,"fit":1.522},{"panel":"ein","T":200,"R":2.87,"obs":1.412,"fit":1.462},{"panel":"ein","T":200,"R":2.95,"obs":1.486,"fit":1.534},{"panel":"ein","T":200,"R":3.03,"obs":1.551,"fit":1.597},{"panel":"ein","T":200,"R":3.1,"obs":1.576,"fit":1.621},{"panel":"ein","T":200,"R":3.2,"obs":1.502,"fit":1.547},{"panel":"ein","T":200,"R":3.3,"obs":1.355,"fit":1.42},{"panel":"ein","T":200,"R":3.43,"obs":1.208,"fit":1.293},{"panel":"ein","T":200,"R":3.52,"obs":1.247,"fit":1.263},{"panel":"ein","T":200,"R":3.6,"obs":1.273,"fit":1.233},{"panel":"ein","T":200,"R":3.75,"obs":1.238,"fit":1.187},{"panel":"ein","T":200,"R":3.9,"obs":1.199,"fit":1.167},{"panel":"ein","T":200,"R":4.1,"obs":1.184,"fit":1.16},{"panel":"ein","T":200,"R":4.3,"obs":1.179,"fit":1.155},{"panel":"ein","T":200,"R":4.5,"obs":1.175,"fit":1.152},{"panel":"ein","T":200,"R":4.7,"obs":1.208,"fit":1.149},{"panel":"ein","T":200,"R":4.9,"obs":1.241,"fit":1.147},{"panel":"ein","T":200,"R":5.1,"obs":1.226,"fit":1.145},{"panel":"ein","T":200,"R":5.3,"obs":1.181,"fit":1.143},{"panel":"ein","T":200,"R":5.5,"obs":1.142,"fit":1.142},
{"panel":"ein","T":150,"R":0,"obs":0.785,"fit":0.805},{"panel":"ein","T":150,"R":0.2,"obs":0.778,"fit":0.805},{"panel":"ein","T":150,"R":0.4,"obs":0.785,"fit":0.818},{"panel":"ein","T":150,"R":0.55,"obs":0.792,"fit":0.835},{"panel":"ein","T":150,"R":0.7,"obs":0.825,"fit":0.865},{"panel":"ein","T":150,"R":0.8,"obs":0.865,"fit":0.905},{"panel":"ein","T":150,"R":0.9,"obs":1.016,"fit":1.016},{"panel":"ein","T":150,"R":1,"obs":1.141,"fit":1.122},{"panel":"ein","T":150,"R":1.1,"obs":1.266,"fit":1.238},{"panel":"ein","T":150,"R":1.2,"obs":1.41,"fit":1.362},{"panel":"ein","T":150,"R":1.3,"obs":1.573,"fit":1.513},{"panel":"ein","T":150,"R":1.38,"obs":1.698,"fit":1.629},{"panel":"ein","T":150,"R":1.44,"obs":1.746,"fit":1.673},{"panel":"ein","T":150,"R":1.5,"obs":1.708,"fit":1.637},{"panel":"ein","T":150,"R":1.6,"obs":1.554,"fit":1.495},{"panel":"ein","T":150,"R":1.7,"obs":1.309,"fit":1.269},{"panel":"ein","T":150,"R":1.8,"obs":1.09,"fit":1.066},{"panel":"ein","T":150,"R":1.9,"obs":0.95,"fit":0.937},{"panel":"ein","T":150,"R":2,"obs":0.871,"fit":0.864},{"panel":"ein","T":150,"R":2.1,"obs":0.942,"fit":0.929},{"panel":"ein","T":150,"R":2.2,"obs":1.084,"fit":1.059},{"panel":"ein","T":150,"R":2.3,"obs":1.276,"fit":1.235},{"panel":"ein","T":150,"R":2.4,"obs":1.482,"fit":1.424},{"panel":"ein","T":150,"R":2.5,"obs":1.581,"fit":1.515},{"panel":"ein","T":150,"R":2.6,"obs":1.486,"fit":1.438},{"panel":"ein","T":150,"R":2.7,"obs":1.233,"fit":1.231},{"panel":"ein","T":150,"R":2.8,"obs":1.025,"fit":1.061},{"panel":"ein","T":150,"R":2.87,"obs":0.949,"fit":0.999},{"panel":"ein","T":150,"R":2.95,"obs":1.023,"fit":1.071},{"panel":"ein","T":150,"R":3.03,"obs":1.089,"fit":1.135},{"panel":"ein","T":150,"R":3.1,"obs":1.114,"fit":1.159},{"panel":"ein","T":150,"R":3.2,"obs":1.039,"fit":1.084},{"panel":"ein","T":150,"R":3.3,"obs":0.889,"fit":0.954},{"panel":"ein","T":150,"R":3.43,"obs":0.739,"fit":0.824},{"panel":"ein","T":150,"R":3.52,"obs":0.771,"fit":0.788},{"panel":"ein","T":150,"R":3.6,"obs":0.792,"fit":0.752},{"panel":"ein","T":150,"R":3.75,"obs":0.754,"fit":0.666},{"panel":"ein","T":150,"R":3.9,"obs":0.711,"fit":0.646},{"panel":"ein","T":150,"R":4.1,"obs":0.696,"fit":0.639},{"panel":"ein","T":150,"R":4.3,"obs":0.691,"fit":0.634},{"panel":"ein","T":150,"R":4.5,"obs":0.686,"fit":0.631},{"panel":"ein","T":150,"R":4.7,"obs":0.719,"fit":0.628},{"panel":"ein","T":150,"R":4.9,"obs":0.752,"fit":0.626},{"panel":"ein","T":150,"R":5.1,"obs":0.737,"fit":0.624},{"panel":"ein","T":150,"R":5.3,"obs":0.676,"fit":0.622},{"panel":"ein","T":150,"R":5.5,"obs":0.621,"fit":0.621},
{"panel":"ein","T":100,"R":0,"obs":0.275,"fit":0.295},{"panel":"ein","T":100,"R":0.2,"obs":0.268,"fit":0.295},{"panel":"ein","T":100,"R":0.4,"obs":0.275,"fit":0.308},{"panel":"ein","T":100,"R":0.55,"obs":0.282,"fit":0.325},{"panel":"ein","T":100,"R":0.7,"obs":0.315,"fit":0.355},{"panel":"ein","T":100,"R":0.8,"obs":0.355,"fit":0.395},{"panel":"ein","T":100,"R":0.9,"obs":0.509,"fit":0.503},{"panel":"ein","T":100,"R":1,"obs":0.635,"fit":0.608},{"panel":"ein","T":100,"R":1.1,"obs":0.762,"fit":0.721},{"panel":"ein","T":100,"R":1.2,"obs":0.908,"fit":0.844},{"panel":"ein","T":100,"R":1.3,"obs":1.074,"fit":0.993},{"panel":"ein","T":100,"R":1.38,"obs":1.2,"fit":1.106},{"panel":"ein","T":100,"R":1.44,"obs":1.249,"fit":1.15},{"panel":"ein","T":100,"R":1.5,"obs":1.21,"fit":1.115},{"panel":"ein","T":100,"R":1.6,"obs":1.054,"fit":0.975},{"panel":"ein","T":100,"R":1.7,"obs":0.805,"fit":0.752},{"panel":"ein","T":100,"R":1.8,"obs":0.583,"fit":0.553},{"panel":"ein","T":100,"R":1.9,"obs":0.441,"fit":0.426},{"panel":"ein","T":100,"R":2,"obs":0.361,"fit":0.354},{"panel":"ein","T":100,"R":2.1,"obs":0.439,"fit":0.426},{"panel":"ein","T":100,"R":2.2,"obs":0.596,"fit":0.571},{"panel":"ein","T":100,"R":2.3,"obs":0.807,"fit":0.767},{"panel":"ein","T":100,"R":2.4,"obs":1.034,"fit":0.977},{"panel":"ein","T":100,"R":2.5,"obs":1.143,"fit":1.078},{"panel":"ein","T":100,"R":2.6,"obs":1.042,"fit":0.995},{"panel":"ein","T":100,"R":2.7,"obs":0.774,"fit":0.775},{"panel":"ein","T":100,"R":2.8,"obs":0.553,"fit":0.593},{"panel":"ein","T":100,"R":2.87,"obs":0.472,"fit":0.527},{"panel":"ein","T":100,"R":2.95,"obs":0.555,"fit":0.606},{"panel":"ein","T":100,"R":3.03,"obs":0.629,"fit":0.676},{"panel":"ein","T":100,"R":3.1,"obs":0.657,"fit":0.702},{"panel":"ein","T":100,"R":3.2,"obs":0.578,"fit":0.623},{"panel":"ein","T":100,"R":3.3,"obs":0.42,"fit":0.485},{"panel":"ein","T":100,"R":3.43,"obs":0.262,"fit":0.347},{"panel":"ein","T":100,"R":3.52,"obs":0.29,"fit":0.308},{"panel":"ein","T":100,"R":3.6,"obs":0.308,"fit":0.268},{"panel":"ein","T":100,"R":3.75,"obs":0.24,"fit":0.17},{"panel":"ein","T":100,"R":3.9,"obs":0.214,"fit":0.15},{"panel":"ein","T":100,"R":4.1,"obs":0.199,"fit":0.14},{"panel":"ein","T":100,"R":4.3,"obs":0.194,"fit":0.133},{"panel":"ein","T":100,"R":4.5,"obs":0.189,"fit":0.127},{"panel":"ein","T":100,"R":4.7,"obs":0.222,"fit":0.122},{"panel":"ein","T":100,"R":4.9,"obs":0.255,"fit":0.118},{"panel":"ein","T":100,"R":5.1,"obs":0.24,"fit":0.115},{"panel":"ein","T":100,"R":5.3,"obs":0.173,"fit":0.113},{"panel":"ein","T":100,"R":5.5,"obs":0.111,"fit":0.111}
],
"notes":[
{"panel":"std","kind":"temp","R":5.39,"y":3.882,"text":"T = 450 °C"},
{"panel":"std","kind":"temp","R":5.39,"y":3.388,"text":"T = 400 °C"},
{"panel":"std","kind":"temp","R":5.39,"y":2.888,"text":"T = 350 °C"},
{"panel":"std","kind":"temp","R":5.39,"y":2.401,"text":"T = 300 °C"},
{"panel":"std","kind":"temp","R":5.39,"y":1.901,"text":"T = 250 °C"},
{"panel":"std","kind":"temp","R":5.39,"y":1.395,"text":"T = 200 °C"},
{"panel":"std","kind":"temp","R":5.39,"y":0.901,"text":"T = 150 °C"},
{"panel":"std","kind":"temp","R":5.39,"y":0.414,"text":"T = 100 °C"},
{"panel":"std","kind":"edge","R":5.45,"y":4.566,"text":"Fe K-edge"},
{"panel":"std","kind":"sample","R":5.49,"y":4.368,"text":"Cu-Fe-mix (SCR)"},
{"panel":"std","kind":"scale","R":0.28,"y":4.342,"text":"0.5"},
{"panel":"ein","kind":"temp","R":5.45,"y":3.862,"text":"T = 450 °C"},
{"panel":"ein","kind":"temp","R":5.45,"y":3.382,"text":"T = 400 °C"},
{"panel":"ein","kind":"temp","R":5.45,"y":2.888,"text":"T = 350 °C"},
{"panel":"ein","kind":"temp","R":5.45,"y":2.395,"text":"T = 300 °C"},
{"panel":"ein","kind":"temp","R":5.45,"y":1.895,"text":"T = 250 °C"},
{"panel":"ein","kind":"temp","R":5.45,"y":1.401,"text":"T = 200 °C"},
{"panel":"ein","kind":"temp","R":5.45,"y":0.921,"text":"T = 150 °C"},
{"panel":"ein","kind":"temp","R":5.45,"y":0.421,"text":"T = 100 °C"},
{"panel":"ein","kind":"edge","R":5.46,"y":4.586,"text":"Fe K-edge"},
{"panel":"ein","kind":"sample","R":5.47,"y":4.401,"text":"Cu-Fe-mix (SCR)"},
{"panel":"ein","kind":"scale","R":0.33,"y":4.474,"text":"0.5"}
],
"bars":[
{"panel":"std","R":0.19,"bottom":4.085,"top":4.585},
{"panel":"ein","R":0.255,"bottom":4.033,"top":4.533}
]
},
"hconcat":[
{
"width":498,"height":709,
"title":{"text":"standard fit"},
"layer":[
{"data":{"name":"curves"},"transform":[{"filter":"datum.panel === 'std'"}],
"mark":{"type":"line","color":"black","strokeWidth":3.3,"interpolate":"monotone","strokeCap":"round","strokeJoin":"round"},
"encoding":{
"x":{"field":"R","type":"quantitative","scale":{"domain":[0,5.5],"nice":false},"title":"R (A)",
"axis":{"values":[0,0.5,1,1.5,2,2.5,3,3.5,4,4.5,5,5.5],"labelExpr":"datum.value % 1 === 0 ? '' + datum.value : ''","labelFlush":false,"labelOverlap":false,"labelFontSize":22,"labelPadding":2,"tickSize":{"condition":{"test":"datum.value % 1 === 0","value":8},"value":5},"tickWidth":1.5,"domain":false,"titleFontSize":25,"titleFontWeight":"bold","titlePadding":3}},
"y":{"field":"obs","type":"quantitative","scale":{"domain":[0,4.664],"nice":false,"zero":false},"title":"|FT[k²χ(k)]| (A⁻³)",
"axis":{"ticks":false,"labels":false,"domain":false,"titleFontSize":26,"titleFontWeight":"bold","titlePadding":25}},
"detail":{"field":"T","type":"nominal"}}},
{"data":{"name":"curves"},"transform":[{"filter":"datum.panel === 'std'"}],
"mark":{"type":"line","color":"#8c8c8c","strokeWidth":2.3,"interpolate":"monotone","strokeCap":"round","strokeJoin":"round"},
"encoding":{"x":{"field":"R","type":"quantitative","title":"R (A)"},"y":{"field":"fit","type":"quantitative","title":"|FT[k²χ(k)]| (A⁻³)"},"detail":{"field":"T","type":"nominal"}}},
{"data":{"name":"bars"},"transform":[{"filter":"datum.panel === 'std'"}],
"mark":{"type":"rule","color":"black","strokeWidth":2.2},
"encoding":{"x":{"field":"R","type":"quantitative","title":"R (A)"},"y":{"field":"bottom","type":"quantitative","title":"|FT[k²χ(k)]| (A⁻³)"},"y2":{"field":"top"}}},
{"data":{"name":"notes"},"transform":[{"filter":"datum.panel === 'std' && datum.kind === 'temp'"}],
"mark":{"type":"text","align":"right","baseline":"middle","fontSize":24,"font":"Liberation Sans","color":"black"},
"encoding":{"x":{"field":"R","type":"quantitative","title":"R (A)"},"y":{"field":"y","type":"quantitative","title":"|FT[k²χ(k)]| (A⁻³)"},"text":{"field":"text"}}},
{"data":{"name":"notes"},"transform":[{"filter":"datum.panel === 'std' && datum.kind === 'edge'"}],
"mark":{"type":"text","align":"right","baseline":"middle","fontSize":24,"font":"Liberation Sans","color":"black"},
"encoding":{"x":{"field":"R","type":"quantitative","title":"R (A)"},"y":{"field":"y","type":"quantitative","title":"|FT[k²χ(k)]| (A⁻³)"},"text":{"field":"text"}}},
{"data":{"name":"notes"},"transform":[{"filter":"datum.panel === 'std' && datum.kind === 'sample'"}],
"mark":{"type":"text","align":"right","baseline":"middle","fontSize":25,"fontWeight":"bold","font":"Liberation Sans","color":"black"},
"encoding":{"x":{"field":"R","type":"quantitative","title":"R (A)"},"y":{"field":"y","type":"quantitative","title":"|FT[k²χ(k)]| (A⁻³)"},"text":{"field":"text"}}},
{"data":{"name":"notes"},"transform":[{"filter":"datum.panel === 'std' && datum.kind === 'scale'"}],
"mark":{"type":"text","align":"left","baseline":"middle","fontSize":25,"font":"Liberation Sans","color":"black"},
"encoding":{"x":{"field":"R","type":"quantitative","title":"R (A)"},"y":{"field":"y","type":"quantitative","title":"|FT[k²χ(k)]| (A⁻³)"},"text":{"field":"text"}}}
]
},
{
"width":494,"height":709,
"title":{"text":"Einstein model","dx":-46},
"layer":[
{"data":{"name":"curves"},"transform":[{"filter":"datum.panel === 'ein'"}],
"mark":{"type":"line","color":"black","strokeWidth":3.3,"interpolate":"monotone","strokeCap":"round","strokeJoin":"round"},
"encoding":{
"x":{"field":"R","type":"quantitative","scale":{"domain":[0,5.5],"nice":false},"title":"R (A)",
"axis":{"values":[0,0.5,1,1.5,2,2.5,3,3.5,4,4.5,5,5.5],"labelExpr":"datum.value % 1 === 0 ? '' + datum.value : ''","labelFlush":false,"labelOverlap":false,"labelFontSize":22,"labelPadding":2,"tickSize":{"condition":{"test":"datum.value % 1 === 0","value":8},"value":5},"tickWidth":1.5,"domain":false,"titleFontSize":25,"titleFontWeight":"bold","titlePadding":3}},
"y":{"field":"obs","type":"quantitative","scale":{"domain":[0,4.664],"nice":false,"zero":false},"title":"|FT[k²χ(k)]| (A⁻³)",
"axis":{"ticks":false,"labels":false,"domain":false,"titleFontSize":26,"titleFontWeight":"bold","titlePadding":25}},
"detail":{"field":"T","type":"nominal"}}},
{"data":{"name":"curves"},"transform":[{"filter":"datum.panel === 'ein'"}],
"mark":{"type":"line","color":"#8c8c8c","strokeWidth":3,"interpolate":"monotone","strokeCap":"round","strokeJoin":"round"},
"encoding":{"x":{"field":"R","type":"quantitative","title":"R (A)"},"y":{"field":"fit","type":"quantitative","title":"|FT[k²χ(k)]| (A⁻³)"},"detail":{"field":"T","type":"nominal"}}},
{"data":{"name":"bars"},"transform":[{"filter":"datum.panel === 'ein'"}],
"mark":{"type":"rule","color":"black","strokeWidth":2.2},
"encoding":{"x":{"field":"R","type":"quantitative","title":"R (A)"},"y":{"field":"bottom","type":"quantitative","title":"|FT[k²χ(k)]| (A⁻³)"},"y2":{"field":"top"}}},
{"data":{"name":"notes"},"transform":[{"filter":"datum.panel === 'ein' && datum.kind === 'temp'"}],
"mark":{"type":"text","align":"right","baseline":"middle","fontSize":24,"font":"Liberation Sans","color":"black"},
"encoding":{"x":{"field":"R","type":"quantitative","title":"R (A)"},"y":{"field":"y","type":"quantitative","title":"|FT[k²χ(k)]| (A⁻³)"},"text":{"field":"text"}}},
{"data":{"name":"notes"},"transform":[{"filter":"datum.panel === 'ein' && datum.kind === 'edge'"}],
"mark":{"type":"text","align":"right","baseline":"middle","fontSize":24,"font":"Liberation Sans","color":"black"},
"encoding":{"x":{"field":"R","type":"quantitative","title":"R (A)"},"y":{"field":"y","type":"quantitative","title":"|FT[k²χ(k)]| (A⁻³)"},"text":{"field":"text"}}},
{"data":{"name":"notes"},"transform":[{"filter":"datum.panel === 'ein' && datum.kind === 'sample'"}],
"mark":{"type":"text","align":"right","baseline":"middle","fontSize":25,"fontWeight":"bold","font":"Liberation Sans","color":"black"},
"encoding":{"x":{"field":"R","type":"quantitative","title":"R (A)"},"y":{"field":"y","type":"quantitative","title":"|FT[k²χ(k)]| (A⁻³)"},"text":{"field":"text"}}},
{"data":{"name":"notes"},"transform":[{"filter":"datum.panel === 'ein' && datum.kind === 'scale'"}],
"mark":{"type":"text","align":"left","baseline":"middle","fontSize":25,"font":"Liberation Sans","color":"black"},
"encoding":{"x":{"field":"R","type":"quantitative","title":"R (A)"},"y":{"field":"y","type":"quantitative","title":"|FT[k²χ(k)]| (A⁻³)"},"text":{"field":"text"}}}
]
}
],
"config":{
"view":{"stroke":"black","strokeWidth":1.5},
"font":"Liberation Sans",
"axis":{"grid":false,"labelColor":"black","titleColor":"black","tickColor":"black","domainColor":"black","labelFont":"Liberation Sans","titleFont":"Liberation Sans"},
"title":{"font":"Lato","fontSize":29,"fontWeight":"bold","color":"black","offset":7}
}
}
